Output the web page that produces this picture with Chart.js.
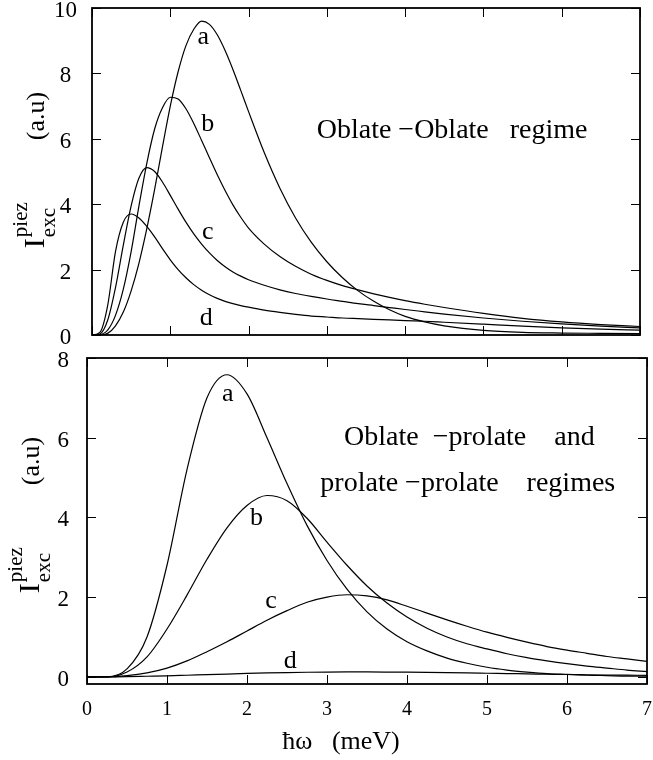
<!DOCTYPE html>
<html>
<head>
<meta charset="utf-8">
<script src="https://cdn.jsdelivr.net/npm/chart.js@4.4.1/dist/chart.umd.min.js"></script>
<style>
  html, body { margin: 0; padding: 0; background: #fff; }
  #wrap { position: relative; width: 653px; height: 760px; }
  #topChart { position: absolute; left: 0; top: 0; }
  #bottomChart { position: absolute; left: 0; top: 345px; }
</style>
</head>
<body>
<div id="wrap">
  <canvas id="topChart" width="653" height="345"></canvas>
  <canvas id="bottomChart" width="653" height="415"></canvas>
</div>
<script>
// ---- data ----
// top panel: oblate-oblate regime
const xTop = [0, 0.1, 0.2, 0.3, 0.4, 0.5, 0.6, 0.7, 0.8, 0.9, 1.0, 1.1, 1.2, 1.3, 1.4, 1.5, 1.6, 1.7, 1.8, 1.9, 2.0,
              2.2, 2.4, 2.6, 2.8, 3.0, 3.2, 3.4, 3.6, 3.8, 4.0, 4.25, 4.5, 5.0, 5.5, 6.0, 6.5, 7.0];
const aTop = [0, 0, 0.05, 0.28, 0.7, 1.35, 2.2, 3.25, 4.45, 5.75, 7.0, 8.05, 8.85, 9.35, 9.6, 9.5, 9.18, 8.7, 8.12, 7.48, 6.83,
              5.58, 4.49, 3.58, 2.84, 2.24, 1.75, 1.35, 1.03, 0.77, 0.57, 0.4, 0.28, 0.14, 0.08, 0.06, 0.05, 0.04];
const bTop = [0, 0.01, 0.15, 0.6, 1.4, 2.55, 3.95, 5.25, 6.3, 6.95, 7.27, 7.22, 6.92, 6.47, 5.95, 5.42, 4.9, 4.42, 3.98, 3.6, 3.27,
              2.78, 2.4, 2.1, 1.86, 1.67, 1.51, 1.38, 1.26, 1.15, 1.05, 0.94, 0.84, 0.66, 0.51, 0.4, 0.32, 0.26];
const cTop = [0, 0.03, 0.45, 1.45, 2.75, 3.95, 4.8, 5.12, 5.0, 4.68, 4.27, 3.85, 3.45, 3.09, 2.78, 2.51, 2.28, 2.09, 1.93, 1.8, 1.69,
              1.52, 1.38, 1.27, 1.18, 1.1, 1.03, 0.96, 0.9, 0.84, 0.78, 0.71, 0.64, 0.52, 0.42, 0.34, 0.27, 0.22];
const dTop = [0, 0.08, 0.9, 2.55, 3.45, 3.7, 3.58, 3.32, 3.0, 2.64, 2.3, 2.0, 1.75, 1.54, 1.37, 1.23, 1.12, 1.03, 0.96, 0.9, 0.85,
              0.76, 0.69, 0.63, 0.58, 0.55, 0.52, 0.5, 0.48, 0.46, 0.44, 0.42, 0.39, 0.33, 0.27, 0.22, 0.18, 0.15];

// bottom panel: oblate-prolate and prolate-prolate regimes
const xBottom = [0, 0.25, 0.5, 0.75, 1.0, 1.25, 1.5, 1.75, 2.0, 2.25, 2.5, 2.75, 3.0, 3.25, 3.5, 3.75, 4.0,
                 4.25, 4.5, 4.75, 5.0, 5.25, 5.5, 5.75, 6.0, 6.25, 6.5, 6.75, 7.0];
const aBottom = [0, 0, 0.2, 1.0, 2.8, 5.2, 7.0, 7.58, 7.1, 6.0, 4.85, 3.8, 2.92, 2.2, 1.63, 1.2, 0.88,
                 0.65, 0.47, 0.34, 0.24, 0.17, 0.12, 0.08, 0.06, 0.04, 0.03, 0.02, 0.02];
const bBottom = [0, 0, 0.12, 0.5, 1.2, 2.05, 2.95, 3.74, 4.3, 4.55, 4.42, 3.98, 3.38, 2.8, 2.28, 1.85, 1.5,
                 1.22, 1.0, 0.83, 0.7, 0.58, 0.48, 0.4, 0.33, 0.27, 0.22, 0.17, 0.13];
const cBottom = [0, 0, 0.03, 0.1, 0.22, 0.4, 0.63, 0.88, 1.15, 1.42, 1.66, 1.87, 2.0, 2.06, 2.03, 1.93, 1.77,
                 1.6, 1.43, 1.27, 1.12, 0.99, 0.87, 0.76, 0.67, 0.59, 0.51, 0.45, 0.39];
const dBottom = [0, 0, 0.005, 0.015, 0.025, 0.04, 0.055, 0.07, 0.085, 0.097, 0.107, 0.115, 0.12, 0.122, 0.122, 0.12, 0.116,
                 0.111, 0.105, 0.098, 0.09, 0.082, 0.074, 0.066, 0.058, 0.052, 0.046, 0.042, 0.038];

const curveNames = ['a', 'b', 'c', 'd'];
const xTicks = [0, 1, 2, 3, 4, 5, 6, 7];
const yTicksTop = [0, 2, 4, 6, 8, 10];
const yTicksBottom = [0, 2, 4, 6, 8];

const SERIF = '"Liberation Serif", "DejaVu Serif", serif';

function toPoints(xs, ys) {
    return ys.map((y, i) => ({ x: xs[i], y: y }));
}

function makeDatasets(xs, series) {
    return series.map((ys, i) => ({
        label: curveNames[i],
        data: toPoints(xs, ys),
        borderColor: '#000',
        borderWidth: 1.2,
        pointRadius: 0,
        fill: false,
        cubicInterpolationMode: 'monotone'
    }));
}

// y title: I^piez_exc   (a.u), rotated
function drawYTitle(ctx, xBase, yCenter) {
    ctx.save();
    ctx.translate(xBase, yCenter);
    ctx.rotate(-Math.PI / 2);
    ctx.fillStyle = '#000';
    ctx.textBaseline = 'alphabetic';
    ctx.textAlign = 'left';
    const fI = '30px ' + SERIF, fS = '21px ' + SERIF, fU = '26px ' + SERIF;
    ctx.font = fI; const wI = ctx.measureText('I').width;
    ctx.font = fS; const wS = Math.max(ctx.measureText('piez').width, ctx.measureText('exc').width);
    ctx.font = fU; const wU = ctx.measureText('(a.u)').width;
    const gap = 62;
    const total = wI + 1 + wS + gap + wU;
    let x = -total / 2;
    ctx.font = fI; ctx.fillText('I', x, 0); x += wI + 1;
    ctx.font = fS; ctx.fillText('piez', x, -17); ctx.fillText('exc', x, 11);
    x += wS + gap;
    ctx.font = fU; ctx.fillText('(a.u)', x, 0);
    ctx.restore();
}

// frame, inward ticks on all sides, curve labels and notes
function panelPlugin(cfg) {
    return {
        id: 'panel',
        afterDraw(chart) {
            const ctx = chart.ctx;
            const area = chart.chartArea;
            const xs = chart.scales.x, ys = chart.scales.y;
            const tl = 9;
            ctx.save();
            ctx.strokeStyle = '#000';
            ctx.lineWidth = 1;
            ctx.beginPath();
            xTicks.forEach(v => {
                const px = Math.round(xs.getPixelForValue(v)) + 0.5;
                ctx.moveTo(px, area.bottom); ctx.lineTo(px, area.bottom - tl);
                ctx.moveTo(px, area.top); ctx.lineTo(px, area.top + tl);
            });
            cfg.yTicks.forEach(v => {
                const py = Math.round(ys.getPixelForValue(v)) + 0.5;
                ctx.moveTo(area.left, py); ctx.lineTo(area.left + tl, py);
                ctx.moveTo(area.right, py); ctx.lineTo(area.right - tl, py);
            });
            ctx.stroke();
            ctx.lineWidth = 1.8;
            ctx.strokeRect(area.left, area.top, area.right - area.left, area.bottom - area.top);

            ctx.fillStyle = '#000';
            ctx.textAlign = 'center';
            ctx.textBaseline = 'middle';
            ctx.font = '26px ' + SERIF;
            cfg.labels.forEach(l => {
                ctx.fillText(l.t, xs.getPixelForValue(l.x), ys.getPixelForValue(l.y));
            });
            ctx.font = '28px ' + SERIF;
            cfg.notes.forEach(n => {
                ctx.fillText(n.t, xs.getPixelForValue(n.x), ys.getPixelForValue(n.y));
            });
            drawYTitle(ctx, cfg.titleX, cfg.titleY);
            if (cfg.xTitle) {
                ctx.font = '26px ' + SERIF;
                ctx.textBaseline = 'middle';
                ctx.fillText('\u0127\u03c9   (meV)', cfg.xTitle.x, cfg.xTitle.y);
            }
            ctx.restore();
        }
    };
}

function makeChart(id, xs, series, opt) {
    const ctx = document.getElementById(id).getContext('2d');
    return new Chart(ctx, {
        type: 'line',
        data: { datasets: makeDatasets(xs, series) },
        options: {
            responsive: false,
            animation: false,
            devicePixelRatio: 1,
            layout: { padding: opt.padding },
            plugins: { legend: { display: false }, tooltip: { enabled: false } },
            scales: {
                x: {
                    type: 'linear',
                    min: 0, max: 7,
                    afterBuildTicks: s => { s.ticks = xTicks.map(v => ({ value: v })); },
                    afterFit: s => {
                        s.height = opt.xHeight;
                        s.paddingLeft = 0; s.paddingRight = 0;
                    },
                    grid: { display: false },
                    border: { display: false },
                    ticks: {
                        display: opt.showX,
                        padding: 6,
                        color: '#000',
                        maxRotation: 0,
                        font: { family: SERIF, size: 20 }
                    }
                },
                y: {
                    type: 'linear',
                    min: opt.yMin, max: opt.yMax,
                    afterBuildTicks: s => { s.ticks = opt.yTicks.map(v => ({ value: v })); },
                    afterFit: s => {
                        s.width = opt.yWidth;
                        s.paddingTop = 0; s.paddingBottom = 0;
                    },
                    grid: { display: false },
                    border: { display: false },
                    ticks: {
                        padding: opt.yPad,
                        crossAlign: 'center',
                        labelOffset: 3,
                        color: '#000',
                        font: { family: SERIF, size: 23 }
                    }
                }
            }
        },
        plugins: [panelPlugin({
            yTicks: opt.yTicks,
            labels: opt.labels,
            notes: opt.notes,
            titleX: opt.titleX,
            titleY: opt.titleY,
            xTitle: opt.xTitle
        })]
    });
}

makeChart('topChart', xTop, [aTop, bTop, cTop, dTop], {
    padding: { top: 8, right: 13, bottom: 10, left: 0 },
    xHeight: 0, showX: false,
    yMin: 0, yMax: 10, yTicks: yTicksTop, yWidth: 92, yPad: 7,
    titleX: 44, titleY: 170,
    labels: [
        { t: 'a', x: 1.42, y: 9.1 },
        { t: 'b', x: 1.48, y: 6.45 },
        { t: 'c', x: 1.48, y: 3.15 },
        { t: 'd', x: 1.46, y: 0.5 }
    ],
    notes: [
        { t: 'Oblate \u2212Oblate   regime', x: 4.6, y: 6.25 }
    ]
});

makeChart('bottomChart', xBottom, [aBottom, bBottom, cBottom, dBottom], {
    padding: { top: 13, right: 6, bottom: 0, left: 0 },
    xHeight: 76, showX: true,
    yMin: -0.18, yMax: 8, yTicks: yTicksBottom, yWidth: 87, yPad: 10,
    titleX: 39, titleY: 170,
    labels: [
        { t: 'a', x: 1.76, y: 7.09 },
        { t: 'b', x: 2.12, y: 3.97 },
        { t: 'c', x: 2.30, y: 1.9 },
        { t: 'd', x: 2.54, y: 0.4 }
    ],
    notes: [
        { t: 'Oblate  \u2212prolate    and', x: 4.78, y: 6.0 },
        { t: 'prolate \u2212prolate    regimes', x: 4.76, y: 4.85 }
    ],
    xTitle: { x: 341, y: 397 }
});
</script>
</body>
</html>
